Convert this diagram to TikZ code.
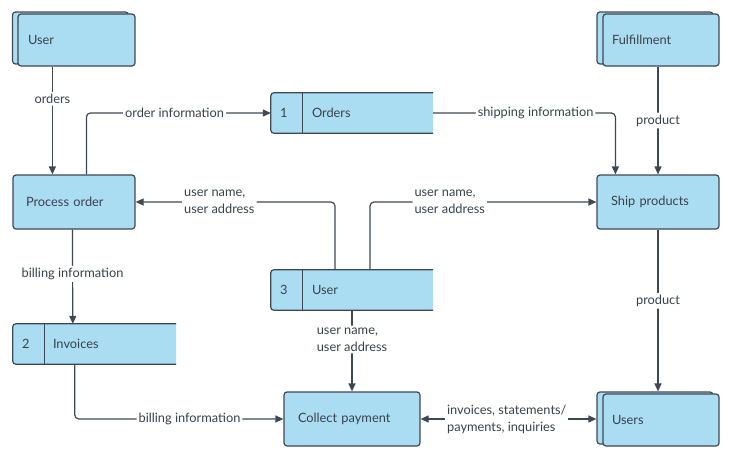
\documentclass[tikz,border=0pt]{standalone}
\usepackage{fontspec}
\setmainfont{Lato}
\usetikzlibrary{arrows.meta,calc}
\definecolor{boxfill}{HTML}{ABDDF2}
\definecolor{linec}{HTML}{3E4853}
\definecolor{txt}{HTML}{38424C}
\tikzset{
  basefont/.style={font=\fontsize{12.8}{17}\selectfont, text=txt},
  proc/.style={draw=linec, fill=boxfill, line width=1.2pt, rounded corners=3pt, minimum height=54pt, align=left, inner ysep=0pt, basefont},
  entfront/.style={draw=linec, fill=boxfill, line width=1.2pt, rounded corners=3pt, minimum height=52pt, align=left, inner ysep=0pt, basefont},
  entback/.style={draw=linec, fill=boxfill, line width=1.2pt, rounded corners=3pt, minimum height=52pt, minimum width=116pt, inner sep=0pt},
  storebase/.style={minimum height=40pt, inner sep=0pt},
  storeline/.style={fill=boxfill, draw=linec, line width=1.2pt, rounded corners=3pt},
  divider/.style={draw=linec, line width=1.2pt},
  stxt/.style={anchor=west, inner sep=0pt, basefont},
  arr/.style={draw=linec, line width=1.2pt, -{Triangle[length=8pt,width=7pt]}, rounded corners=4pt},
  dblarr/.style={draw=linec, line width=1.2pt, {Triangle[length=8pt,width=7pt]}-{Triangle[length=8pt,width=7pt]}},
  lbl/.style={fill=white, inner sep=2pt, align=left, basefont}
}
\begin{document}
\begin{tikzpicture}[x=1pt,y=-1pt]
\useasboundingbox (0,0) rectangle (743,458);

% external entities
\node[entback] (userB) at (70.5,38) {};
\node[entfront, text width=97pt, inner xsep=10pt] (userA) at (76.5,40) {User};
\node[entback] (fulB) at (655,38) {};
\node[entfront, text width=98pt, inner xsep=9pt] (fulA) at (661,40) {Fulfillment};
\node[entback] (usersB) at (655,418) {};
\node[entfront, text width=98pt, inner xsep=9pt] (usersA) at (661,420) {Users};

% processes
\node[proc, text width=96pt, inner xsep=13pt] (po) at (74,202) {Process order};
\node[proc, text width=94pt, inner xsep=14pt] (ship) at (658,202) {Ship products};
\node[proc, text width=108pt, inner xsep=14pt] (cp) at (352,419) {Collect payment};

% data stores
\node[storebase, minimum width=162pt] (orders) at (352,113) {};
\path[storeline] (orders.north east) -- (orders.north west) -- (orders.south west) -- (orders.south east);
\draw[divider] ([xshift=32pt]orders.north west) -- ([xshift=32pt]orders.south west);
\node[stxt] (ordersnum) at ([xshift=9pt]orders.west) {1};
\node[stxt] (orderslbl) at ([xshift=41pt]orders.west) {Orders};

\node[storebase, minimum width=162pt] (store) at (352,290) {};
\path[storeline] (store.north east) -- (store.north west) -- (store.south west) -- (store.south east);
\draw[divider] ([xshift=32pt]store.north west) -- ([xshift=32pt]store.south west);
\node[stxt] (storenum) at ([xshift=9pt]store.west) {3};
\node[stxt] (storelbl) at ([xshift=41pt]store.west) {User};

\node[storebase, minimum width=163pt] (inv) at (94.5,344) {};
\path[storeline] (inv.north east) -- (inv.north west) -- (inv.south west) -- (inv.south east);
\draw[divider] ([xshift=32pt]inv.north west) -- ([xshift=32pt]inv.south west);
\node[stxt] (invnum) at ([xshift=9pt]inv.west) {2};
\node[stxt] (invlbl) at ([xshift=40pt]inv.west) {Invoices};

% connectors
\draw[arr] ([xshift=35pt]userA.south west) -- node[lbl, pos=0.3] {orders} ([xshift=40pt]po.north west);
\draw[arr] ([xshift=74pt]po.north west) |- node[lbl, pos=0.739, inner ysep=0pt] {order information} (orders.west);
\draw[arr] (orders.east) -| node[lbl, pos=0.281, inner ysep=0pt] {shipping information} ([xshift=19pt]ship.north west);
\draw[arr] (fulA.south -| ship.north) -- node[lbl, pos=0.5] {product} (ship.north);
\draw[arr] ([xshift=-17pt]store.north) |- node[lbl, pos=0.79] {user name,\\user address} (po.east);
\draw[arr] ([xshift=18pt]store.north) |- node[lbl, pos=0.676] {user name,\\user address} (ship.west);
\draw[arr] ([xshift=60pt]po.south west) -- node[lbl, pos=0.47] {billing information} ([xshift=60pt]inv.north west);
\draw[arr] ([xshift=62pt]inv.south west) |- node[lbl, pos=0.775, inner ysep=0pt] {billing information} (cp.west);
\draw[arr] (store.south -| cp.north) -- node[lbl, pos=0.36] {user name,\\user address} (cp.north);
\draw[dblarr] (cp.east) -- node[lbl, pos=0.49] {invoices, statements/\\payments, inquiries} (cp.east -| usersB.west);
\draw[arr] (ship.south) -- node[lbl, pos=0.44] {product} (ship.south |- usersB.north);
\end{tikzpicture}
\end{document}
